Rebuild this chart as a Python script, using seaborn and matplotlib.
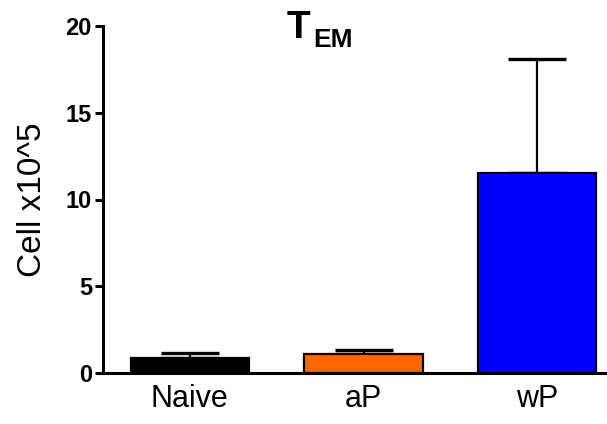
import matplotlib
matplotlib.use("Agg")
import matplotlib.pyplot as plt
import seaborn as sns
import pandas as pd

# Effector-memory T cell counts per group (x10^5 cells)
groups = ["Naive", "aP", "wP"]
means = [0.85, 1.12, 11.55]
upper = [1.17, 1.30, 18.1]
colors = ["#000000", "#FF6600", "#0000FF"]
yticks = [0, 5, 10, 15, 20]

sns.set_theme(style="white")
plt.rcParams["font.family"] = ["Liberation Sans", "DejaVu Sans"]
plt.rcParams["text.color"] = "black"
plt.rcParams["axes.labelcolor"] = "black"
plt.rcParams["xtick.color"] = "black"
plt.rcParams["ytick.color"] = "black"

fig = plt.figure(figsize=(6.07, 4.24), dpi=100)
ax = fig.add_axes([103 / 607, 51 / 424, 502 / 607, 347 / 424])

df = pd.DataFrame({"group": groups, "cells": means})
sns.barplot(data=df, x="group", y="cells", hue="group", palette=colors,
            order=groups, hue_order=groups, width=0.68, edgecolor="black",
            linewidth=1.6, saturation=1, errorbar=None, legend=False,
            ax=ax, zorder=2)

err_up = [u - m for u, m in zip(upper, means)]
ax.errorbar(range(len(groups)), means, yerr=[[0] * len(groups), err_up],
            fmt="none", ecolor="black", elinewidth=1.6, capsize=21,
            capthick=2.4, zorder=1)

ax.set_ylim(0, 20)
ax.set_xlim(-0.5, 2.39)
ax.set_yticks(yticks)
ax.set_yticklabels([str(t) for t in yticks], fontsize=17, fontweight="bold")
ax.tick_params(axis="y", direction="out", length=6, width=2.2, pad=2, left=True)
ax.tick_params(axis="x", length=0, pad=8, labelsize=22)
ax.set_xlabel("")
ax.set_ylabel("Cell x10^5", fontsize=24)
ax.yaxis.set_label_coords(-0.11, 0.5)

for side in ["top", "right"]:
    ax.spines[side].set_visible(False)
for side in ["left", "bottom"]:
    ax.spines[side].set_linewidth(2.2)
    ax.spines[side].set_color("black")

# Title with subscript
fig.text(287 / 607, 1 - 38 / 424, "T", fontsize=28, fontweight="bold",
         ha="left", va="baseline")
fig.text(313 / 607, 1 - 47 / 424, "EM", fontsize=19, fontweight="bold",
         ha="left", va="baseline")

fig.savefig("out.png", dpi=100, facecolor="white")
